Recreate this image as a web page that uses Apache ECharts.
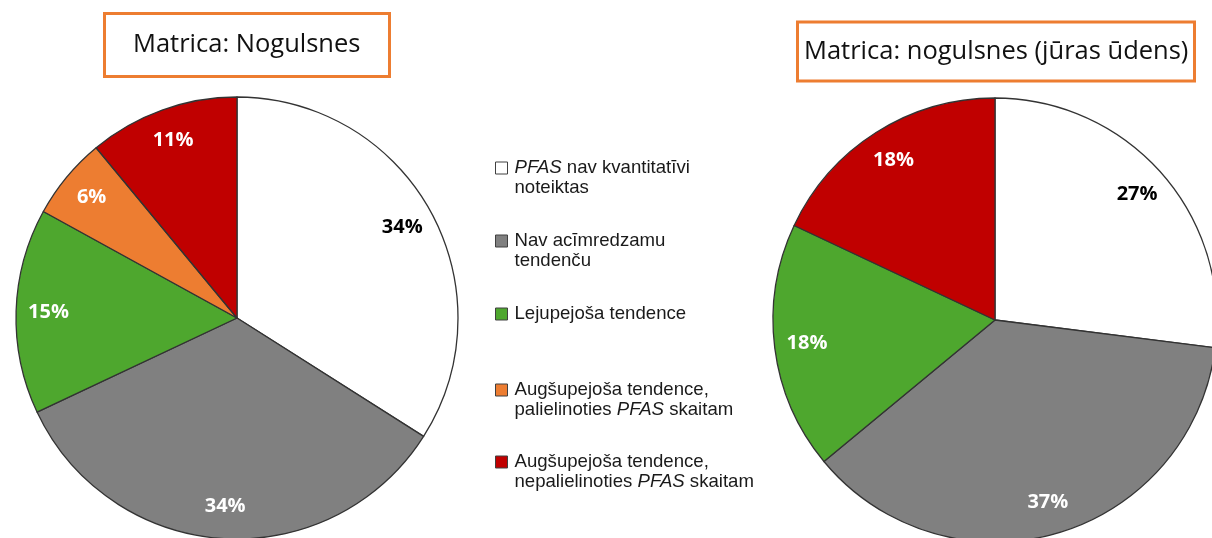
<!DOCTYPE html>
<html>
<head>
<meta charset="utf-8">
<script src="https://cdn.jsdelivr.net/npm/echarts@6/dist/echarts.min.js"></script>
<style>
  html, body { margin: 0; padding: 0; background: #fff; }
  #chart { width: 1212px; height: 538px; }
</style>
</head>
<body>
<div id="chart"></div>
<script>
// ---- data ----
const categories = [
  'PFAS nav kvantitatīvi noteiktas',
  'Nav acīmredzamu tendenču',
  'Lejupejoša tendence',
  'Augšupejoša tendence, palielinoties PFAS skaitam',
  'Augšupejoša tendence, nepalielinoties PFAS skaitam'
];
const legendLines = [
  ['{i|PFAS} nav kvantitatīvi', 'noteiktas'],
  ['Nav acīmredzamu', 'tendenču'],
  ['Lejupejoša tendence'],
  ['Augšupejoša tendence,', 'palielinoties {i|PFAS} skaitam'],
  ['Augšupejoša tendence,', 'nepalielinoties {i|PFAS} skaitam']
];
const colors = ['#FFFFFF', '#808080', '#4EA72E', '#ED7D31', '#C00000'];
const valuesLeft = [34, 34, 15, 6, 11];
const valuesRight = [27, 37, 18, null, 18];
const titleLeft = 'Matrica: Nogulsnes';
const titleRight = 'Matrica: nogulsnes (jūras ūdens)';

// ---- build ----
function buildData(values) {
  const out = [];
  values.forEach((v, i) => {
    if (v == null) return;
    out.push({
      name: categories[i],
      value: v,
      itemStyle: { color: colors[i] },
      label: { color: colors[i] === '#FFFFFF' ? '#000000' : '#FFFFFF' }
    });
  });
  return out;
}
function overlayData(values) {
  return buildData(values).map(d => ({
    name: d.name, value: d.value,
    itemStyle: { color: 'rgba(0,0,0,0)' },
    label: d.label
  }));
}

const iconCenters = [168, 241, 314, 390, 462];
const legends = categories.map((name, i) => {
  const lines = legendLines[i];
  const multi = lines.length > 1;
  return {
    data: [name],
    orient: 'vertical',
    left: 495,
    top: multi ? iconCenters[i] - 30 : iconCenters[i] - 10,
    padding: 0,
    icon: 'rect',
    itemWidth: 12,
    itemHeight: 12,
    selectedMode: false,
    itemStyle: { borderColor: '#404040', borderWidth: 1 },
    formatter: () => lines.join('\n'),
    textStyle: {
      fontFamily: '"Liberation Sans", Arial, sans-serif',
      fontSize: 18.6,
      lineHeight: 20,
      color: '#1a1a1a',
      padding: multi ? [20, 0, 0, 2] : [0, 0, 0, 2],
      rich: {
        i: {
          fontFamily: '"Liberation Sans", Arial, sans-serif',
          fontSize: 18.6, lineHeight: 20, fontStyle: 'italic', color: '#1a1a1a'
        }
      }
    }
  };
});

const labelStyle = {
  show: true,
  position: 'inside',
  formatter: '{c}%',
  fontFamily: '"Open Sans", sans-serif',
  fontWeight: 'bold',
  fontSize: 20
};

function pies(center, r, values) {
  return [
    {
      type: 'pie',
      center: center,
      radius: r,
      startAngle: 90,
      clockwise: true,
      silent: true,
      label: { show: false },
      labelLine: { show: false },
      emphasis: { disabled: true },
      itemStyle: { borderColor: '#333333', borderWidth: 1.3 },
      data: buildData(values)
    },
    {
      type: 'pie',
      center: center,
      radius: [r * 0.68, r],
      startAngle: 90,
      clockwise: true,
      silent: true,
      avoidLabelOverlap: false,
      labelLine: { show: false },
      emphasis: { disabled: true },
      itemStyle: { borderWidth: 0 },
      label: labelStyle,
      data: overlayData(values)
    }
  ];
}

const titleText = {
  fontFamily: '"Open Sans", sans-serif',
  fontWeight: 'normal',
  fontSize: 25.5,
  lineHeight: 34,
  color: '#111111'
};

const option = {
  backgroundColor: '#ffffff',
  animation: false,
  title: [
    { text: titleLeft, left: 104, top: 13, padding: [15, 29], borderColor: '#ED7D31', borderWidth: 3, textStyle: titleText },
    { text: titleRight, left: 797.5, top: 21.5, padding: [13, 6.5], borderColor: '#ED7D31', borderWidth: 3, textStyle: titleText }
  ],
  legend: legends,
  series: [].concat(pies([237, 318], 221, valuesLeft), pies([995, 320], 222, valuesRight))
};

const chart = echarts.init(document.getElementById('chart'), null, { renderer: 'canvas' });
chart.setOption(option);
</script>
</body>
</html>
